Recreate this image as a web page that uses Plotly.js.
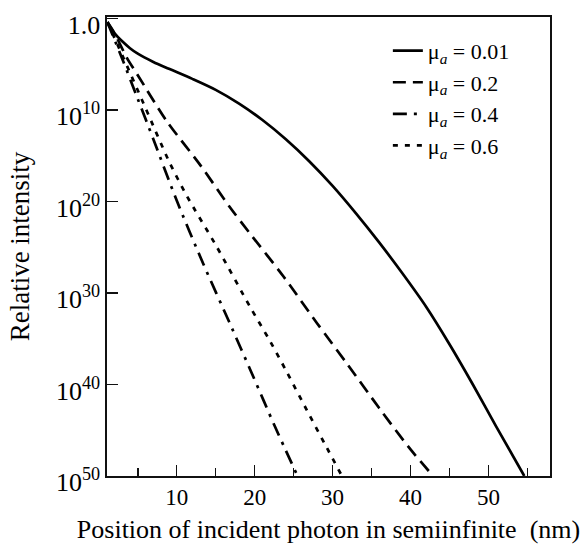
<!DOCTYPE html>
<html>
<head>
<meta charset="utf-8">
<script src="https://cdn.plot.ly/plotly-3.0.1.min.js"></script>
<style>html,body{margin:0;padding:0;background:#fff;}#chart{width:584px;height:546px;}</style>
</head>
<body>
<div id="chart"></div>
<script>
// Position of incident photon (nm) and decades of attenuation (relative intensity = 10^-value)
var xMu001 = [1.1, 2, 3, 4, 5, 7, 9, 12, 15, 18, 21, 24, 27, 30, 33, 36, 39, 42, 45, 48, 51, 54.6];
var yMu001 = [0.4, 1.6, 2.5, 3.25, 3.85, 4.75, 5.5, 6.6, 7.8, 9.3, 11.1, 13.2, 15.6, 18.3, 21.3, 24.5, 27.9, 31.5, 35.6, 40.0, 44.6, 50.0];

var xMu02 = [1.1, 2, 3.6, 5, 8.7, 13, 16.8, 19.4, 23.7, 28, 32, 36, 40, 42.9];
var yMu02 = [0.4, 1.6, 4.3, 6.2, 11.2, 16.0, 20.6, 23.5, 28.2, 33.3, 37.9, 42.6, 47.1, 50.0];

var xMu04 = [1.1, 3, 5, 7, 10, 13.4, 16.8, 19.8, 22.5, 25.5];
var yMu04 = [0.4, 4.4, 8.8, 13.2, 19.9, 26.8, 33.3, 39.1, 44.4, 50.0];

var xMu06 = [1.1, 3, 6, 9, 11.3, 15.1, 19.4, 22, 24.1, 27, 29, 31.2];
var yMu06 = [0.4, 4.0, 9.8, 15.6, 19.4, 24.9, 31.5, 35.3, 38.6, 43.3, 46.5, 50.0];

var seriesNames = ['μ<sub><i>a</i></sub> = 0.01', 'μ<sub><i>a</i></sub> = 0.2', 'μ<sub><i>a</i></sub> = 0.4', 'μ<sub><i>a</i></sub> = 0.6'];

var yTickVals = [0, 10, 20, 30, 40, 50];
var yTickText = ['1.0', '10<sup>10</sup>', '10<sup>20</sup>', '10<sup>30</sup>', '10<sup>40</sup>', '10<sup>50</sup>'];
var xTickVals = [10, 20, 30, 40, 50];
var xMinorVals = [5, 15, 25, 35, 45, 55];

var FONT = 'Liberation Serif, Times New Roman, serif';
var dashes = ['solid', '13px,7px', '14px,7px,3px,7px', '5px,7px'];
var xs = [xMu001, xMu02, xMu04, xMu06];
var ys = [yMu001, yMu02, yMu04, yMu06];

var traces = xs.map(function (x, i) {
  return {
    x: x, y: ys[i], type: 'scatter', mode: 'lines', name: seriesNames[i],
    line: {color: '#000', width: 2.7, dash: dashes[i], shape: 'spline', smoothing: 0.8}
  };
});

var layout = {
  width: 584, height: 546,
  margin: {l: 107, r: 34, t: 17, b: 70},
  paper_bgcolor: '#fff', plot_bgcolor: '#fff',
  font: {family: FONT, size: 24, color: '#000'},
  showlegend: true,
  legend: {x: 0.634, y: 0.972, xanchor: 'left', yanchor: 'top', bgcolor: 'rgba(0,0,0,0)',
           font: {family: FONT, size: 22, color: '#000'}, tracegroupgap: 0},
  xaxis: {
    range: [1.05, 57.9], showgrid: false, zeroline: false,
    showline: true, linecolor: '#111', linewidth: 1.6, mirror: true,
    ticks: 'inside', ticklen: 11, tickwidth: 1.5, tickcolor: '#111',
    tickmode: 'array', tickvals: xTickVals,
    tickfont: {family: FONT, size: 23, color: '#000'},
    minor: {tickmode: 'array', tickvals: xMinorVals, ticks: 'inside', ticklen: 8, tickwidth: 1.5, tickcolor: '#111', showgrid: false},
    title: {text: 'Position of incident photon in semiinfinite &nbsp;(nm)', font: {family: FONT, size: 26, color: '#000'}, standoff: 10}
  },
  yaxis: {
    range: [50, -0.16], showgrid: false, zeroline: false,
    showline: true, linecolor: '#111', linewidth: 1.6, mirror: true,
    ticks: 'inside', ticklen: 11, tickwidth: 1.5, tickcolor: '#111',
    tickmode: 'array', tickvals: yTickVals, ticktext: yTickText,
    tickfont: {family: FONT, size: 26, color: '#000'},
    ticklabelshift: -6, ticklabeloverflow: 'allow',
    title: {text: 'Relative intensity', font: {family: FONT, size: 27, color: '#000'}, standoff: 18}
  }
};

Plotly.newPlot('chart', traces, layout, {staticPlot: true, displayModeBar: false});
</script>
</body>
</html>
